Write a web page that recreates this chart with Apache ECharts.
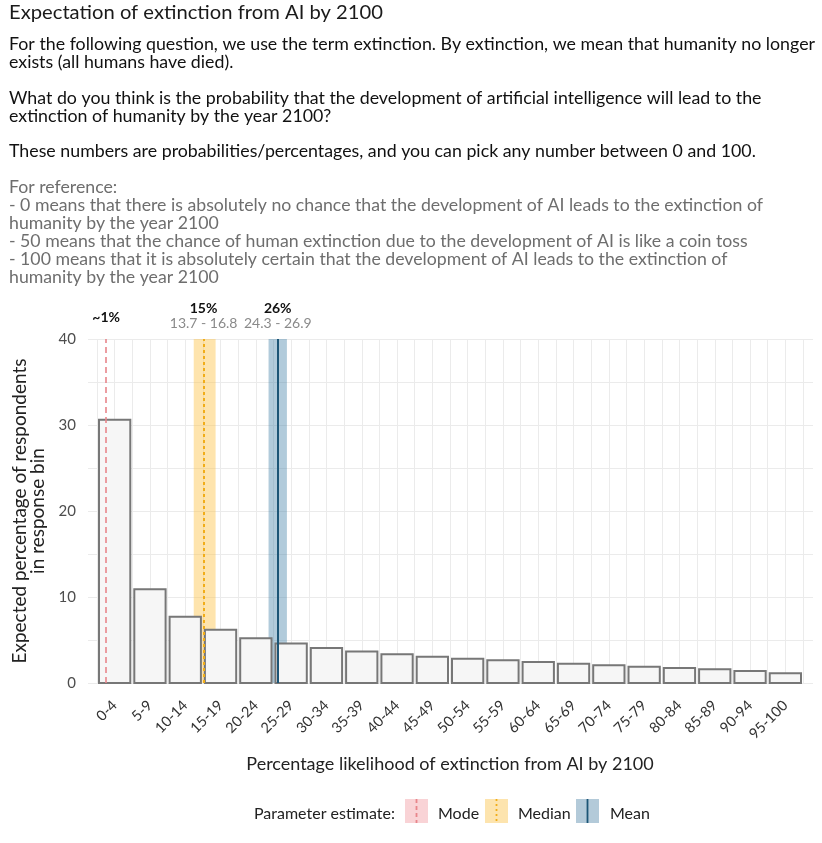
<!DOCTYPE html>
<html>
<head>
<meta charset="utf-8">
<script src="https://cdn.jsdelivr.net/npm/echarts@6/dist/echarts.min.js"></script>
<style>
html,body{margin:0;padding:0;background:#fff;}
#chart{width:822px;height:843px;}
</style>
</head>
<body>
<div id="chart"></div>
<script>
// ---- data ----
const binLabels = ['0-4','5-9','10-14','15-19','20-24','25-29','30-34','35-39','40-44','45-49','50-54','55-59','60-64','65-69','70-74','75-79','80-84','85-89','90-94','95-100'];
const binStart  = [0,5,10,15,20,25,30,35,40,45,50,55,60,65,70,75,80,85,90,95];
const binEnd    = [5,10,15,20,25,30,35,40,45,50,55,60,65,70,75,80,85,90,95,100];
const binValues = [30.6,10.9,7.7,6.2,5.2,4.6,4.07,3.65,3.33,3.06,2.83,2.64,2.44,2.25,2.05,1.9,1.74,1.59,1.4,1.13];
const yTickLabels = [0,10,20,30,40];

const modeValue = 1.3;   const modeLabel = '~1%';
const medianValue = 15.1; const medianLow = 13.7; const medianHigh = 16.8; const medianLabel = '15%';
const meanValue = 25.6;   const meanLow = 24.3;   const meanHigh = 26.9;   const meanLabel = '26%';

const titleText = 'Expectation of extinction from AI by 2100';
const blockA = [
  'For the following question, we use the term extinction. By extinction, we mean that humanity no longer',
  'exists (all humans have died).',
  '',
  'What do you think is the probability that the development of artificial intelligence will lead to the',
  'extinction of humanity by the year 2100?',
  '',
  'These numbers are probabilities/percentages, and you can pick any number between 0 and 100.'
];
const blockB = [
  'For reference:',
  '- 0 means that there is absolutely no chance that the development of AI leads to the extinction of',
  'humanity by the year 2100',
  '- 50 means that the chance of human extinction due to the development of AI is like a coin toss',
  '- 100 means that it is absolutely certain that the development of AI leads to the extinction of',
  'humanity by the year 2100'
];
const xAxisTitle = 'Percentage likelihood of extinction from AI by 2100';
const yAxisTitle = 'Expected percentage of respondents\nin response bin';
const legendTitle = 'Parameter estimate:';
const legendNames = ['Mode','Median','Mean'];

// ---- styling ----
const FF = 'Lato';
const ctx = document.createElement('canvas').getContext('2d');
function widthOf(text, font){ ctx.font = font; return ctx.measureText(text).width; }

const graphics = [];
const titleFont = '18.5px ' + FF;
graphics.push({type:'text', x:9, y:13, scaleX: 374/widthOf(titleText,titleFont),
  style:{text:titleText, font:titleFont, fill:'#1a1a1a', verticalAlign:'middle'}});

const fontA = '16.5px ' + FF;
const sA = 806/widthOf(blockA[0], fontA);
blockA.forEach((t,i)=>{ if(!t) return;
  graphics.push({type:'text', x:9, y:45 + i*17.8, scaleX:sA,
    style:{text:t, font:fontA, fill:'#111', verticalAlign:'middle'}});
});
const fontB = '16.5px ' + FF;
const sB = 754/widthOf(blockB[1], fontB);
blockB.forEach((t,i)=>{
  graphics.push({type:'text', x:9, y:187.5 + i*18, scaleX:sB,
    style:{text:t, font:fontB, fill:'#6e6e6e', verticalAlign:'middle'}});
});

// legend
const legY = 811;
graphics.push({type:'text', x:254, y:legY+3, style:{text:legendTitle, font:'16px '+FF, fill:'#222', verticalAlign:'middle'}});
const legItems = [
  {x:405, fill:'#f9d3d6', line:'#e8858b', dash:[4,3], textX:438},
  {x:485, fill:'#fde4ae', line:'#f1ad19', dash:[2,3], textX:518},
  {x:576, fill:'#b3cad9', line:'#1c5576', dash:null, textX:610}
];
legItems.forEach((it,i)=>{
  graphics.push({type:'rect', shape:{x:it.x, y:legY-12, width:23, height:24}, style:{fill:it.fill}});
  graphics.push({type:'line', shape:{x1:it.x+11.5, y1:legY-12, x2:it.x+11.5, y2:legY+12},
    style:{stroke:it.line, lineWidth:1.8, lineDash:it.dash}});
  graphics.push({type:'text', x:it.textX, y:legY+3, style:{text:legendNames[i], font:'16px '+FF, fill:'#222', verticalAlign:'middle'}});
});

const gridColor = '#ebebeb';
const option = {
  animation:false,
  backgroundColor:'#fff',
  textStyle:{fontFamily:FF},
  graphic: graphics,
  grid:[
    {left:88, right:9, top:339, bottom:160},
    {left:97, right:19, top:339, bottom:160}
  ],
  xAxis:[
    {gridIndex:0, type:'value', min:0, max:1, show:false},
    {gridIndex:1, type:'value', min:0, max:100, interval:2.5, position:'bottom',
      axisLabel:{show:false}, axisLine:{show:false}, axisTick:{show:false},
      splitLine:{show:true, lineStyle:{color:gridColor, width:1}}},
    {gridIndex:1, type:'category', data:binLabels, boundaryGap:true, position:'bottom',
      axisLine:{show:false}, axisTick:{show:false}, splitLine:{show:false},
      axisLabel:{rotate:45, interval:0, fontSize:14.5, color:'#333', margin:20, fontFamily:FF},
      name:xAxisTitle, nameLocation:'middle', nameGap:72,
      nameTextStyle:{fontSize:18, color:'#222', fontFamily:FF}}
  ],
  yAxis:[
    {gridIndex:0, type:'value', min:0, max:40, interval:5,
      axisLine:{show:false}, axisTick:{show:false},
      splitLine:{show:true, lineStyle:{color:gridColor, width:1}},
      axisLabel:{formatter:v=> yTickLabels.includes(v) ? String(v) : '', fontSize:15, color:'#4d4d4d', margin:12, fontFamily:FF},
      name:yAxisTitle, nameLocation:'middle', nameGap:35, nameRotate:90,
      nameTextStyle:{fontSize:19, color:'#222', fontFamily:FF, lineHeight:18}},
    {gridIndex:1, type:'value', min:0, max:40, show:false}
  ],
  series:[
    {
      type:'custom', xAxisIndex:1, yAxisIndex:1, z:2,
      data: binStart.map((s,i)=>[s, binEnd[i], binValues[i]]),
      encode:{x:[0,1], y:2},
      renderItem:(params, api)=>{
        const p0 = api.coord([api.value(0), api.value(2)]);
        const p1 = api.coord([api.value(1), 0]);
        const inset = 2;
        return {type:'rect',
          shape:{x:p0[0]+inset, y:p0[1], width:(p1[0]-p0[0])-2*inset, height:p1[1]-p0[1]},
          style:{fill:'#f6f6f6', stroke:'#777', lineWidth:2}};
      }
    },
    {
      type:'line', xAxisIndex:1, yAxisIndex:1, z:5, data:[], silent:true,
      markArea:{silent:true, data:[
        [{xAxis:medianLow, itemStyle:{color:'rgba(252,196,74,0.45)'}}, {xAxis:medianHigh}],
        [{xAxis:meanLow, itemStyle:{color:'rgba(70,130,170,0.42)'}}, {xAxis:meanHigh}]
      ]},
      markLine:{silent:true, symbol:['none','none'],
        label:{position:'end', fontFamily:FF,
          rich:{b:{fontWeight:'bold', fontSize:14, color:'#111', fontFamily:FF, lineHeight:15},
                r:{fontSize:14, color:'#8a8a8a', fontFamily:FF, lineHeight:15}}},
        data:[
          {xAxis:modeValue, lineStyle:{color:'#e8858b', width:1.6, type:[6,4]},
            label:{formatter:'{b|'+modeLabel+'}', distance:14}},
          {xAxis:medianValue, lineStyle:{color:'#f1ad19', width:2, type:[3,3]},
            label:{formatter:'{b|'+medianLabel+'}\n{r|'+medianLow+' - '+medianHigh+'}', distance:8}},
          {xAxis:meanValue, lineStyle:{color:'#1c5576', width:2, type:'solid'},
            label:{formatter:'{b|'+meanLabel+'}\n{r|'+meanLow+' - '+meanHigh+'}', distance:8}}
        ]}
    }
  ]
};
const chart = echarts.init(document.getElementById('chart'), null, {renderer:'canvas'});
chart.setOption(option);
</script>
</body>
</html>
